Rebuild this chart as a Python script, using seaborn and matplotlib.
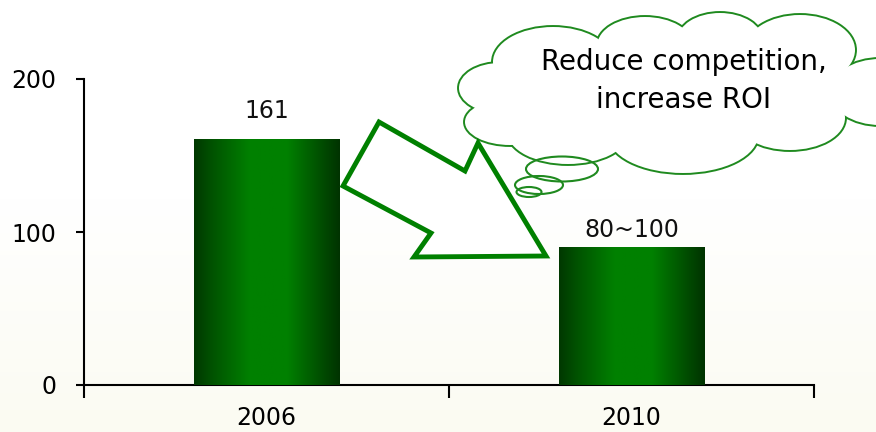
import numpy as np
import pandas as pd
import matplotlib
matplotlib.use("Agg")
import matplotlib.pyplot as plt
import seaborn as sns
from matplotlib.colors import LinearSegmentedColormap
from matplotlib.patches import Ellipse, Polygon

# data
years = ["2006", "2010"]
values = [161, 90]
bar_labels = ["161", "80~100"]
y_ticks = [0, 100, 200]
note = "Reduce competition,\nincrease ROI"

GREEN = "#008000"
CLOUD = "#1f8a1f"

sns.set_theme(style="white")
plt.rcParams["font.family"] = ["DejaVu Sans"]

W, H = 876, 432
fig = plt.figure(figsize=(W / 100, H / 100), dpi=100)

# background: white fading to a light cream at the bottom
bg = fig.add_axes([0, 0, 1, 1], zorder=-2)
grad = np.concatenate([np.zeros(45), np.linspace(0, 1, 55)])[:, None]
bg_cmap = LinearSegmentedColormap.from_list("bg", ["#ffffff", "#fbfbf2"])
bg.imshow(grad, aspect="auto", cmap=bg_cmap, extent=[0, 1, 0, 1], origin="upper")
bg.axis("off")

ax = fig.add_axes([84 / W, 47 / H, 730 / W, 306 / H])
ax.set_facecolor("none")
df = pd.DataFrame({"year": years, "value": values})
sns.barplot(data=df, x="year", y="value", width=0.40, color=GREEN, ax=ax)

# horizontal shading on each bar
bar_cmap = LinearSegmentedColormap.from_list(
    "bar", [(0, "#003800"), (0.12, "#005200"), (0.38, "#008000"),
            (0.64, "#008000"), (0.88, "#004c00"), (1, "#003300")])
shade = np.linspace(0, 1, 256)[None, :]
for patch in ax.patches:
    x0, y0 = patch.get_x(), patch.get_y()
    w, h = patch.get_width(), patch.get_height()
    im = ax.imshow(shade, aspect="auto", cmap=bar_cmap,
                   extent=[x0, x0 + w, y0, y0 + h], zorder=3)
    im.set_clip_path(patch)
    patch.set_alpha(0)

offsets = [18, 11]
for i, (v, lab) in enumerate(zip(values, bar_labels)):
    ax.text(i, v + offsets[i], lab, ha="center", va="center", fontsize=17, color="#111111")

ax.set_xlim(-0.5, 1.5)
ax.set_ylim(0, 200)
ax.set_yticks(y_ticks)
ax.set_xlabel("")
ax.set_ylabel("")
sns.despine(ax=ax)
for side in ["left", "bottom"]:
    ax.spines[side].set_color("black")
    ax.spines[side].set_linewidth(1.5)
ax.tick_params(axis="y", left=True, length=6, width=1.5, pad=14, labelsize=17, colors="black")
ax.tick_params(axis="x", bottom=False, length=0, pad=15, labelsize=17, labelcolor="black")
ax.set_xticks([-0.5, 0.5, 1.5], minor=True)
ax.tick_params(axis="x", which="minor", bottom=True, length=9, width=1.5, color="black")

# overlay in pixel space for the arrow and the thought cloud
ov = fig.add_axes([0, 0, 1, 1], zorder=5)
ov.set_xlim(0, W)
ov.set_ylim(H, 0)
ov.axis("off")
ov.patch.set_alpha(0)

lobes = [(553, 62, 120, 70), (645, 45, 95, 56), (720, 40, 85, 54),
         (800, 50, 110, 70), (880, 92, 100, 66), (790, 118, 110, 64),
         (683, 135, 150, 76), (568, 133, 120, 62), (510, 122, 90, 46),
         (500, 88, 82, 50)]
for cx, cy, w, h in lobes:
    ov.add_patch(Ellipse((cx, cy), w, h, facecolor="white", edgecolor=CLOUD,
                         linewidth=2.8, zorder=1))
for cx, cy, w, h in lobes + [(680, 90, 330, 100)]:
    ov.add_patch(Ellipse((cx, cy), w, h, facecolor="white", edgecolor="none", zorder=2))

bubbles = [(562, 169, 72, 25), (539, 185, 48, 18), (529, 192, 25, 10)]
for cx, cy, w, h in bubbles:
    ov.add_patch(Ellipse((cx, cy), w, h, facecolor="none", edgecolor=CLOUD,
                         linewidth=1.5, zorder=3))

arrow = [(379, 122), (465, 171), (478, 143), (546, 256),
         (414, 257), (431, 233), (343, 186)]
ov.add_patch(Polygon(arrow, closed=True, facecolor="white", edgecolor=GREEN,
                     linewidth=3.5, joinstyle="miter", zorder=4))

ov.text(684, 81, note, ha="center", va="center", fontsize=20,
        linespacing=1.5, color="black", zorder=10)

fig.savefig("out.png", dpi=100)
